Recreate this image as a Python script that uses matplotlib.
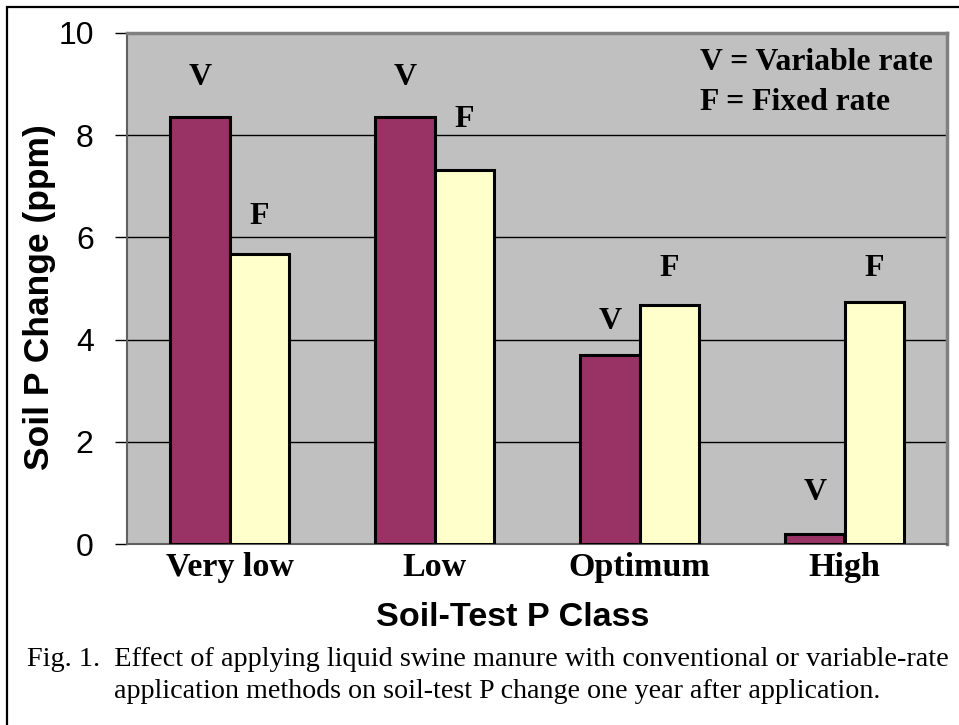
import matplotlib
matplotlib.use("Agg")
import matplotlib.pyplot as plt
import numpy as np
from matplotlib.patches import Rectangle

categories = ["Very low", "Low", "Optimum", "High"]
variable_rate = [8.35, 8.35, 3.70, 0.20]
fixed_rate = [5.68, 7.32, 4.68, 4.73]
bar_letters_v = ["V", "V", "V", "V"]
bar_letters_f = ["F", "F", "F", "F"]
yticks = [0, 2, 4, 6, 8, 10]

# layout: label heights in data units (manually placed in original)
label_y_v = [9.12, 9.12, 4.36, 1.0]
label_y_f = [6.40, 8.30, 5.40, 5.40]

W, H = 959, 725
fig = plt.figure(figsize=(W / 100, H / 100), dpi=100)
fig.patch.set_facecolor("white")

# outer frame
fig.add_artist(Rectangle((7 / W, -0.1), 1.2, 1 - 7 / H + 0.1, transform=fig.transFigure,
                         fill=False, edgecolor="black", linewidth=1.6))

ax_l, ax_r, ax_t, ax_b = 127, 947, 33, 544
ax = fig.add_axes([ax_l / W, 1 - ax_b / H, (ax_r - ax_l) / W, (ax_b - ax_t) / H])
ax.set_facecolor("#C0C0C0")

x = np.arange(len(categories))
bw = 0.288
ax.bar(x - bw / 2, variable_rate, bw, color="#993366", edgecolor="black", linewidth=2.2, zorder=3)
ax.bar(x + bw / 2, fixed_rate, bw, color="#FFFFCC", edgecolor="black", linewidth=2.2, zorder=3)

ax.set_xlim(-0.5, len(categories) - 0.5)
ax.set_ylim(0, 10)
ax.set_yticks(yticks)
ax.yaxis.grid(True, color="black", linewidth=1.0, zorder=1)
ax.set_axisbelow(True)

ax.tick_params(axis="y", direction="out", length=9, width=1.0, labelsize=23, pad=15, colors="black")
for lbl in ax.get_yticklabels():
    lbl.set_family("Liberation Sans")
ax.set_xticks(x)
ax.set_xticklabels(categories, family="Liberation Serif", fontweight="bold", fontsize=24.5)
ax.tick_params(axis="x", length=0, pad=6)

for s in ["top", "right"]:
    ax.spines[s].set_color("#808080")
    ax.spines[s].set_linewidth(2.5)
ax.spines["left"].set_color("#606060")
ax.spines["left"].set_linewidth(1.5)
ax.spines["bottom"].set_color("#606060")
ax.spines["bottom"].set_linewidth(1.5)

for i in range(len(categories)):
    ax.text(x[i] - bw / 2, label_y_v[i], bar_letters_v[i], ha="center", va="center",
            family="Liberation Serif", fontweight="bold", fontsize=23, zorder=4)
    ax.text(x[i] + bw / 2, label_y_f[i], bar_letters_f[i], ha="center", va="center",
            family="Liberation Serif", fontweight="bold", fontsize=23, zorder=4)

fig.text(700 / W, 1 - 62 / H, "V = Variable rate", ha="left", va="center",
         family="Liberation Serif", fontweight="bold", fontsize=22.8)
fig.text(700 / W, 1 - 102 / H, "F = Fixed rate", ha="left", va="center",
         family="Liberation Serif", fontweight="bold", fontsize=22.8)

fig.text(40 / W, 1 - 297 / H, "Soil P Change (ppm)", rotation=90, ha="center", va="center",
         family="Liberation Sans", fontweight="bold", fontsize=25.5)
fig.text(513 / W, 1 - 617 / H, "Soil-Test P Class", ha="center", va="center",
         family="Liberation Sans", fontweight="bold", fontsize=24.6)

fig.text(487.5 / W, 1 - 659 / H,
         "Fig. 1.  Effect of applying liquid swine manure with conventional or variable-rate",
         ha="center", va="center", family="Liberation Serif", fontsize=20.3)
fig.text(497 / W, 1 - 691 / H,
         "application methods on soil-test P change one year after application.",
         ha="center", va="center", family="Liberation Serif", fontsize=20.2)

fig.savefig("out.png", dpi=100)
